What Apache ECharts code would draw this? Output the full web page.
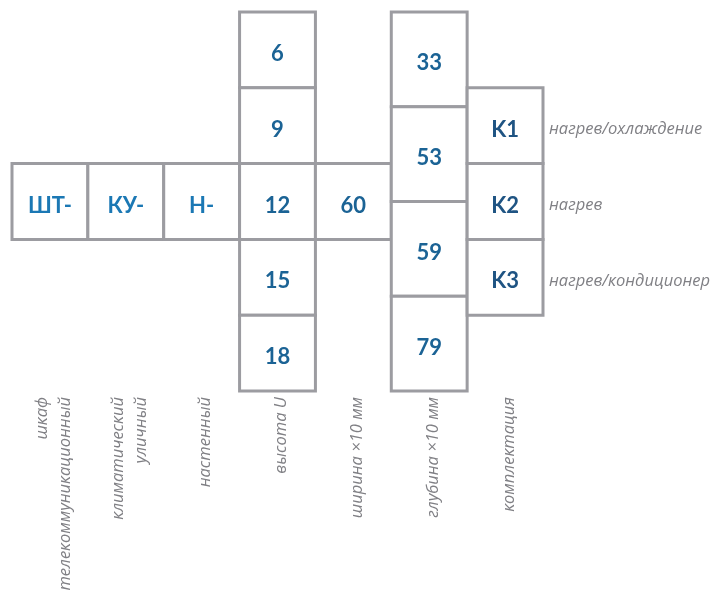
<!DOCTYPE html>
<html><head><meta charset="utf-8">
<script src="https://cdn.jsdelivr.net/npm/echarts@6/dist/echarts.min.js"></script>
<style>html,body{margin:0;padding:0;background:#fff}#c{width:722px;height:601px}</style>
</head><body><div id="c"></div>
<script>
// Code segments (columns) and their options
var prefixes = ['ШТ-', 'КУ-', 'Н-'];          // columns 0..2, middle row
var heights = ['6', '9', '12', '15', '18'];   // column 3
var widths = ['60'];                          // column 4, middle row
var depths = ['33', '53', '59', '79'];        // column 5
var kits = ['K1', 'K2', 'K3'];                // column 6
var kitNotes = ['нагрев/охлаждение', 'нагрев', 'нагрев/кондиционер'];
var captions = ['шкаф\nтелекоммуникационный', 'климатический\nуличный', 'настенный', 'высота U', 'ширина ×10 мм', 'глубина ×10 мм', 'комплектация'];

// Build cells: [col, rowStart, rowEnd, label, group, note]
var cells = [];
prefixes.forEach(function (t, i) { cells.push([i, 2, 3, t, 0, '']); });
heights.forEach(function (t, i) { cells.push([3, i, i + 1, t, 1, '']); });
widths.forEach(function (t) { cells.push([4, 2, 3, t, 1, '']); });
var dStep = heights.length / depths.length;
depths.forEach(function (t, i) { cells.push([5, i * dStep, (i + 1) * dStep, t, 1, '']); });
kits.forEach(function (t, i) { cells.push([6, i + 1, i + 2, t, 2, kitNotes[i]]); });

var capData = captions.map(function (c, i) { return [i, c]; });
var textColors = ['#1b78b4', '#1b6395', '#1f5483'];
var noteFont = 'italic 16.5px "Open Sans", sans-serif';

var chart = echarts.init(document.getElementById('c'));
chart.setOption({
  animation: false,
  grid: { left: 12, top: 12, width: 531, height: 379 },
  xAxis: { type: 'value', min: 0, max: 7, show: false },
  yAxis: { type: 'value', min: 0, max: 5, inverse: true, show: false },
  series: [{
    type: 'custom',
    clip: false,
    data: cells,
    encode: { x: 0, y: [1, 2] },
    renderItem: function (params, api) {
      var col = api.value(0), r0 = api.value(1), r1 = api.value(2);
      var p0 = api.coord([col, r0]);
      var p1 = api.coord([col + 1, r1]);
      var d = cells[params.dataIndex];
      var children = [{
        type: 'rect',
        shape: { x: p0[0], y: p0[1], width: p1[0] - p0[0], height: p1[1] - p0[1] },
        style: { fill: '#fff', stroke: '#9c9ca1', lineWidth: 3 }
      }, {
        type: 'text',
        style: {
          text: d[3], x: (p0[0] + p1[0]) / 2, y: (p0[1] + p1[1]) / 2 + 4,
          align: 'center', verticalAlign: 'middle',
          font: 'bold 22px Lato, "Open Sans", sans-serif', fill: textColors[d[4]]
        }
      }];
      if (d[5]) {
        children.push({
          type: 'text',
          style: {
            text: d[5], x: p1[0] + 6, y: (p0[1] + p1[1]) / 2 + 4,
            align: 'left', verticalAlign: 'middle',
            font: noteFont, fill: '#808085'
          }
        });
      }
      return { type: 'group', children: children };
    }
  }, {
    type: 'custom',
    clip: false,
    data: capData,
    encode: { x: 0 },
    renderItem: function (params, api) {
      var col = api.value(0);
      var p = api.coord([col + 0.5, 5]);
      return {
        type: 'text',
        x: p[0] + 4, y: p[1] + 6,
        rotation: Math.PI / 2,
        style: {
          text: captions[params.dataIndex], x: 0, y: 0,
          align: 'right', verticalAlign: 'middle', lineHeight: 23,
          font: noteFont, fill: '#808085'
        }
      };
    }
  }]
});
</script></body></html>
